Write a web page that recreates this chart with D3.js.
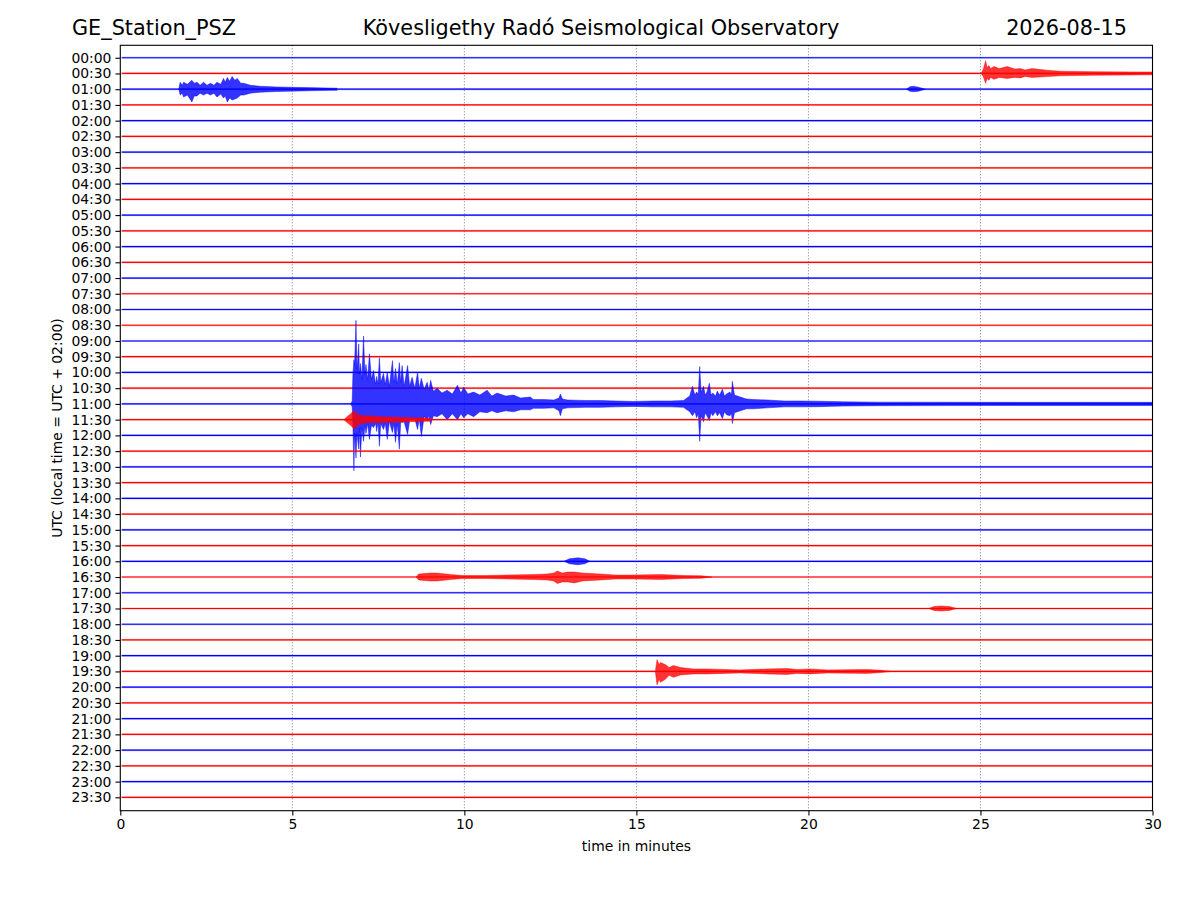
<!DOCTYPE html>
<html>
<head>
<meta charset="utf-8">
<script src="https://cdn.jsdelivr.net/npm/d3@7"></script>
<style>
  html, body { margin: 0; padding: 0; background: #fff; }
  svg text { font-family: "DejaVu Sans", sans-serif; fill: #000; }
</style>
</head>
<body>
<svg id="chart" width="1200" height="900"></svg>
<script>
// ---------------- data ----------------
const stationName = "GE_Station_PSZ";
const observatory = "Kövesligethy Radó Seismological Observatory";
const dateLabel = "2026-08-15";
const yAxisLabel = "UTC (local time = UTC + 02:00)";
const xAxisLabel = "time in minutes";

const rowLabels = [
  "00:00","00:30","01:00","01:30","02:00","02:30","03:00","03:30",
  "04:00","04:30","05:00","05:30","06:00","06:30","07:00","07:30",
  "08:00","08:30","09:00","09:30","10:00","10:30","11:00","11:30",
  "12:00","12:30","13:00","13:30","14:00","14:30","15:00","15:30",
  "16:00","16:30","17:00","17:30","18:00","18:30","19:00","19:30",
  "20:00","20:30","21:00","21:30","22:00","22:30","23:00","23:30"
];
const xTicks = [0, 5, 10, 15, 20, 25, 30];
const gridMinutes = [5, 10, 15, 20, 25];
const traceColors = ["#0000ff", "#ff0000"];   // alternating per row
const noiseLevel = 1.1;                        // background amplitude (units)

// Event envelopes: [minute, upward amplitude, downward amplitude] (units, 16 units ≈ one row)
const ev0030 = [[25.02,0,0],[25.08,4,3],[25.15,13,10],[25.19,6,5],[25.24,8,7],[25.30,5,4],[25.39,7,6],[25.55,5,4],[25.78,7,5],[26.0,4.5,4],[26.16,5,4.5],[26.3,3.5,3],[26.5,5,4],[26.94,3.2,3.2],[27.33,2.3,2.3],[28.3,1.8,1.8],[29.3,1.6,1.6],[30,1.4,1.4]];
const ev0100a = [[1.70,0,0],[1.74,7,6],[1.80,4,4],[1.84,7,8],[1.95,5,6],[2.08,9,13],[2.15,6,7],[2.23,7,7],[2.32,4,4],[2.42,7,6],[2.52,4,4],[2.62,6,6],[2.72,4,4],[2.81,7,8],[2.92,5,5],[3.0,11,9],[3.05,7,7],[3.11,12,13],[3.18,8,9],[3.25,13,11],[3.33,9,10],[3.4,11,9],[3.5,6,6],[3.59,6,6],[3.78,4,4],[4.07,3,3],[4.55,2.3,2.3],[4.94,2,2],[5.72,1.4,1.4],[6.3,1,1]];
const ev0100b = [[22.85,0,0],[22.95,2.5,2],[23.05,3,2.5],[23.2,2,2],[23.4,0,0]];
const ev1100 = [[6.70,0,0],[6.74,3,3],[6.76,30,20],[6.79,45,68],[6.81,40,30],[6.85,85,55],[6.88,35,30],[6.93,61,46],[6.95,30,25],[6.98,41,54],[7.02,25,25],[7.07,69,38],[7.11,30,22],[7.14,40,30],[7.19,25,20],[7.24,51,36],[7.30,25,22],[7.36,34,24],[7.42,20,20],[7.45,28,28],[7.49,20,18],[7.53,47,43],[7.57,22,20],[7.65,31,26],[7.70,20,20],[7.76,32,36],[7.82,18,18],[7.91,44,29],[7.95,22,20],[8.00,36,39],[8.05,20,20],[8.11,42,46],[8.15,22,18],[8.19,39,19],[8.25,18,18],[8.35,39,31],[8.41,18,16],[8.48,27,16],[8.56,16,15],[8.64,32,26],[8.69,16,15],[8.75,26,33],[8.83,15,13],[8.92,22,16],[8.97,14,12],[9.02,24,21],[9.10,13,12],[9.21,16,13],[9.35,11,10],[9.50,14,16],[9.65,10,10],[9.80,19,16],[9.90,11,10],[9.98,17,14],[10.10,10,10],[10.27,12,13],[10.45,9,8],[10.66,14,9],[10.80,8,7],[10.95,11,9],[11.20,8,7],[11.43,9,8],[11.63,6,6],[11.92,7,6],[12.0,4.5,4.5],[12.3,4.5,4.5],[12.6,4,4],[12.75,6,7],[12.79,10,12],[12.85,5,5],[13.0,4,4],[13.5,3.5,3.5],[13.95,3.5,3.5],[14.4,3,3],[14.9,2.5,2.5],[15.5,3,3],[16.0,3,3],[16.37,3.5,3.5],[16.55,8,8],[16.63,18,12],[16.70,9,8],[16.75,12,14],[16.80,10,10],[16.84,38,38],[16.88,12,12],[16.95,18,18],[17.0,9,9],[17.05,12,12],[17.12,21,17],[17.17,9,9],[17.22,11,12],[17.30,8,8],[17.35,13,12],[17.42,9,9],[17.5,15,15],[17.56,8,8],[17.62,10,11],[17.72,12,12],[17.76,9,9],[17.79,23,20],[17.85,9,9],[18.02,7,7],[18.2,5,5],[18.4,4.5,5],[18.8,4,4],[19.3,3,3],[19.77,3,3],[20.26,2.8,2.8],[21.0,2.2,2.2],[22,1.8,1.8],[24,1.7,1.7],[26,1.6,1.6],[28,1.6,1.6],[30,1.6,1.6]];
const ev1130 = [[6.50,0,0],[6.59,3,3],[6.70,6,6],[6.78,9,9],[6.85,7,8],[6.98,4,4],[7.2,4,3],[7.56,3,3],[8.0,2.5,2.5],[8.5,2,2],[9.0,1.5,1.5]];
const ev1600 = [[12.9,0,0],[13.05,2.5,2.5],[13.3,3.5,3.5],[13.5,2.5,2.5],[13.65,0,0]];
const ev1630 = [[8.6,0,0],[8.67,3,3],[9.0,4,4],[9.2,4,4],[9.6,2.5,2.5],[9.97,1.5,1.5],[10.6,1.5,1.5],[11.24,2,2],[12.0,2.5,2.5],[12.4,3,3],[12.6,4,4],[12.7,6,6.6],[12.85,4,5],[13.0,5,5],[13.2,5,6],[13.43,4,4],[13.95,3,3],[14.4,2,2],[14.9,2,2],[15.7,2.5,2.5],[16.4,1.5,1.5],[16.9,1.2,1.2],[17.2,0,0]];
const ev1730 = [[23.5,0,0],[23.65,2,2],[23.85,2.5,2.5],[24.1,2,2],[24.3,0,0]];
const ev1930 = [[15.55,0,0],[15.6,12,13.6],[15.66,7,8],[15.7,9,11],[15.84,7,8],[15.95,4,4],[16.08,6,6],[16.28,4,3.5],[16.66,2.5,2.5],[17.06,2.5,2.5],[17.55,2,2],[18.0,1.5,1.5],[18.8,2.5,2.5],[19.38,3,3],[19.67,2,2],[20.06,2.5,2.5],[20.55,1.5,1.5],[21.7,2,2],[22.1,1.2,1.2],[22.4,0,0]];

const eventsByRow = {
  "00:30": [ev0030],
  "01:00": [ev0100a, ev0100b],
  "11:00": [ev1100],
  "11:30": [ev1130],
  "16:00": [ev1600],
  "16:30": [ev1630],
  "17:30": [ev1730],
  "19:30": [ev1930]
};

// ---------------- layout ----------------
const svg = d3.select("#chart");
const pL = 120.3, pR = 1152.5, pT = 45.3, pB = 810.7;
const tickFont = "13.9px", titleFont = "20.8px";

const x = d3.scaleLinear().domain([0, 30]).range([pL, pR]);
const y = d3.scaleLinear().domain([-0.79, rowLabels.length - 1 + 0.85]).range([pT, pB]);
const rowStep = y(1) - y(0);
const amp = d3.scaleLinear().domain([0, 16]).range([0, rowStep]);

// grid
svg.append("g").selectAll("line").data(gridMinutes).join("line")
  .attr("x1", d => x(d)).attr("x2", d => x(d))
  .attr("y1", pT).attr("y2", pB)
  .attr("stroke", "#555").attr("stroke-width", 0.8)
  .attr("stroke-dasharray", "1,2");

// traces
svg.append("clipPath").attr("id", "plotclip")
  .append("rect").attr("x", pL).attr("y", pT).attr("width", pR - pL).attr("height", pB - pT);

const traces = svg.append("g").attr("clip-path", "url(#plotclip)");
const lineGen = d3.line().x(d => x(d[0])).y(d => d[1]);

rowLabels.forEach((lab, i) => {
  const col = traceColors[i % 2];
  const y0 = y(i);
  const g = traces.append("g");
  // noise band
  g.append("rect")
    .attr("x", x(0.04)).attr("width", x(30) - x(0.04))
    .attr("y", y0 - amp(noiseLevel)).attr("height", 2 * amp(noiseLevel))
    .attr("fill", col).attr("opacity", 0.25);
  // baseline
  g.append("path")
    .attr("d", lineGen([[0.04, y0], [30, y0]]))
    .attr("stroke", col).attr("stroke-width", 1.2).attr("fill", "none");
  // events
  (eventsByRow[lab] || []).forEach(ev => {
    const area = d3.area()
      .x(d => x(d[0]))
      .y0(d => y0 + amp(d[2]))
      .y1(d => y0 - amp(d[1]));
    g.append("path").attr("d", area(ev))
      .attr("fill", col).attr("fill-opacity", 0.8)
      .attr("stroke", col).attr("stroke-width", 0.5).attr("stroke-opacity", 0.9);
  });
});

// axes
const yAxis = d3.axisLeft(y).tickValues(d3.range(rowLabels.length))
  .tickFormat(i => rowLabels[i]).tickSize(4.86).tickPadding(4.0);
const yg = svg.append("g").attr("transform", `translate(${pL},0)`).call(yAxis);
const xAxis = d3.axisBottom(x).tickValues(xTicks).tickFormat(d3.format("d")).tickSize(4.86).tickPadding(4.0);
const xg = svg.append("g").attr("transform", `translate(0,${pB})`).call(xAxis);
[yg, xg].forEach(g => {
  g.select(".domain").remove();
  g.selectAll(".tick line").attr("stroke", "#000").attr("stroke-width", 1.1);
  g.selectAll(".tick text").attr("font-size", tickFont).attr("fill", "#000")
    .style("font-family", "'DejaVu Sans', sans-serif");
});

// frame
svg.append("rect").attr("x", pL).attr("y", pT)
  .attr("width", pR - pL).attr("height", pB - pT)
  .attr("fill", "none").attr("stroke", "#000").attr("stroke-width", 1.1);

// titles
svg.append("text").attr("x", 72).attr("y", 35).attr("font-size", titleFont).text(stationName);
svg.append("text").attr("x", 601).attr("y", 35).attr("font-size", titleFont)
  .attr("text-anchor", "middle").text(observatory);
svg.append("text").attr("x", 1127).attr("y", 35).attr("font-size", titleFont)
  .attr("text-anchor", "end").text(dateLabel);

// axis labels
svg.append("text").attr("x", (pL + pR) / 2).attr("y", 851)
  .attr("font-size", tickFont).attr("text-anchor", "middle").text(xAxisLabel);
svg.append("text").attr("transform", `translate(62,${(pT + pB) / 2}) rotate(-90)`)
  .attr("font-size", tickFont).attr("text-anchor", "middle").text(yAxisLabel);
</script>
</body>
</html>
